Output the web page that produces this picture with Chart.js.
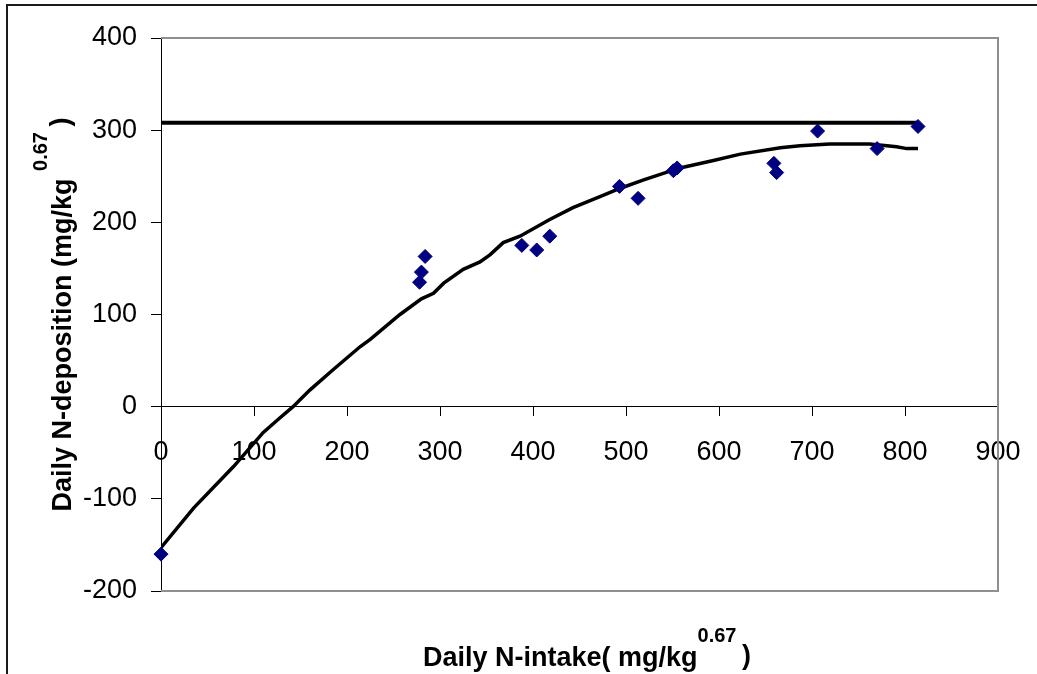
<!DOCTYPE html>
<html>
<head>
<meta charset="utf-8">
<script src="https://cdn.jsdelivr.net/npm/chart.js@4/dist/chart.umd.min.js"></script>
<style>
  html, body { margin: 0; padding: 0; background: #fff; }
  canvas { display: block; }
</style>
</head>
<body>
<canvas id="nChart" width="1037" height="674"></canvas>
<script>
// measured points (N-intake vs N-deposition)
const intakeX = [0, 278, 280, 284, 388, 404, 418, 493, 513, 551, 555, 659, 662, 706, 770, 814];
const depositionY = [-160, 135, 146, 163, 175, 170, 185, 239, 226, 256, 259, 264, 254, 299, 280, 304];

// fitted curve
const curveX = [0, 35, 78, 110, 128, 142, 160, 185, 214, 225, 257, 280, 293, 304, 325, 343, 354, 368, 386, 418, 443, 472, 494, 519, 558, 594, 623, 666, 687, 719, 762, 791, 802, 814];
const curveY = [-153, -110, -65, -28, -12, 0, 18, 40, 65, 73, 100, 117, 123, 134, 149, 157, 165, 178, 185, 203, 216, 228, 237, 246, 259, 267, 274, 281, 283, 285, 285, 282, 280, 280];

// plateau line
const limitX = [0, 814];
const limitY = [308, 308];

const xTicks = [0, 100, 200, 300, 400, 500, 600, 700, 800, 900];
const yTicks = [-200, -100, 0, 100, 200, 300, 400];

function toPoints(xs, ys) {
    return xs.map((x, i) => ({ x: x, y: ys[i] }));
}

const FONT = '"Liberation Sans", Arial, sans-serif';

// frame, plot box and the axis titles with superscripts
const decor = {
    id: 'decor',
    beforeDraw(chart) {
        const ctx = chart.ctx;
        ctx.save();
        ctx.fillStyle = '#fff';
        ctx.fillRect(0, 0, chart.width, chart.height);
        ctx.strokeStyle = '#1a1a1a';
        ctx.lineWidth = 2;
        ctx.beginPath();
        ctx.moveTo(7, chart.height);
        ctx.lineTo(7, 5);
        ctx.lineTo(chart.width, 5);
        ctx.stroke();
        ctx.restore();
    },
    beforeDatasetsDraw(chart) {
        const a = chart.chartArea;
        const ctx = chart.ctx;
        ctx.save();
        ctx.strokeStyle = '#8f8f8f';
        ctx.lineWidth = 2;
        ctx.beginPath();
        ctx.moveTo(a.left, a.top);
        ctx.lineTo(a.right, a.top);
        ctx.lineTo(a.right, a.bottom);
        ctx.lineTo(a.left, a.bottom);
        ctx.stroke();
        ctx.restore();
    },
    afterDraw(chart) {
        const a = chart.chartArea;
        const ctx = chart.ctx;
        const big = 'bold 27px ' + FONT;
        const small = 'bold 20px ' + FONT;
        ctx.save();
        ctx.fillStyle = '#000';
        ctx.textBaseline = 'alphabetic';
        ctx.textAlign = 'left';

        // x title
        let main = 'Daily N-intake( mg/kg';
        ctx.font = big;
        const wMain = ctx.measureText(main).width;
        const wParen = ctx.measureText(')').width;
        ctx.font = small;
        const wSup = ctx.measureText('0.67 ').width;
        let total = wMain + wSup + wParen;
        let x0 = 423;
        let base = a.bottom + 75;
        ctx.font = big;
        ctx.fillText(main, x0, base);
        ctx.font = small;
        ctx.fillText('0.67', x0 + wMain, base - 24);
        ctx.font = big;
        ctx.fillText(')', x0 + wMain + wSup, base - 2);

        // y title, rotated
        main = 'Daily N-deposition (mg/kg ';
        ctx.font = big;
        const wMainY = ctx.measureText(main).width;
        total = wMainY + wSup + wParen;
        ctx.translate(71, (a.top + a.bottom) / 2);
        ctx.rotate(-Math.PI / 2);
        x0 = -total / 2;
        ctx.fillText(main, x0, 0);
        ctx.font = small;
        ctx.fillText('0.67', x0 + wMainY, -24);
        ctx.font = big;
        ctx.fillText(')', x0 + wMainY + wSup, -2);
        ctx.restore();
    }
};

new Chart(document.getElementById('nChart'), {
    type: 'scatter',
    data: {
        datasets: [{
            label: 'Observed',
            data: toPoints(intakeX, depositionY),
            pointStyle: 'rectRot',
            pointRadius: 7,
            pointBackgroundColor: '#000080',
            pointBorderColor: '#000080',
            pointBorderWidth: 1,
            clip: false
        }, {
            label: 'Fitted',
            data: toPoints(curveX, curveY),
            showLine: true,
            borderColor: '#000',
            borderWidth: 3.5,
            pointRadius: 0,
            tension: 0
        }, {
            label: 'Maximum',
            data: toPoints(limitX, limitY),
            showLine: true,
            borderColor: '#000',
            borderWidth: 4,
            pointRadius: 0
        }]
    },
    options: {
        responsive: false,
        animation: false,
        devicePixelRatio: 1,
        layout: {
            padding: { left: 0, top: 38, right: 39, bottom: 83 }
        },
        scales: {
            x: {
                type: 'linear',
                position: { y: 0 },
                min: 0,
                max: 900,
                afterBuildTicks: (scale) => {
                    scale.ticks = xTicks.map(v => ({ value: v }));
                },
                afterFit: (scale) => {
                    scale.paddingLeft = 0;
                    scale.paddingRight = 0;
                },
                grid: {
                    drawOnChartArea: false,
                    drawTicks: true,
                    tickLength: 9,
                    color: '#000'
                },
                border: { display: true, color: '#000', width: 1 },
                ticks: {
                    color: '#000',
                    padding: 21,
                    maxRotation: 0,
                    font: { family: FONT, size: 27 }
                }
            },
            y: {
                type: 'linear',
                position: 'left',
                min: -200,
                max: 400,
                afterBuildTicks: (scale) => {
                    scale.ticks = yTicks.map(v => ({ value: v }));
                },
                afterFit: (scale) => {
                    scale.width = 161;
                },
                grid: {
                    drawOnChartArea: false,
                    drawTicks: true,
                    tickLength: 10,
                    color: '#000'
                },
                border: { display: true, color: '#000', width: 1 },
                ticks: {
                    color: '#000',
                    padding: 14,
                    font: { family: FONT, size: 27 }
                }
            }
        },
        plugins: {
            legend: { display: false },
            tooltip: { enabled: false }
        }
    },
    plugins: [decor]
});
</script>
</body>
</html>
